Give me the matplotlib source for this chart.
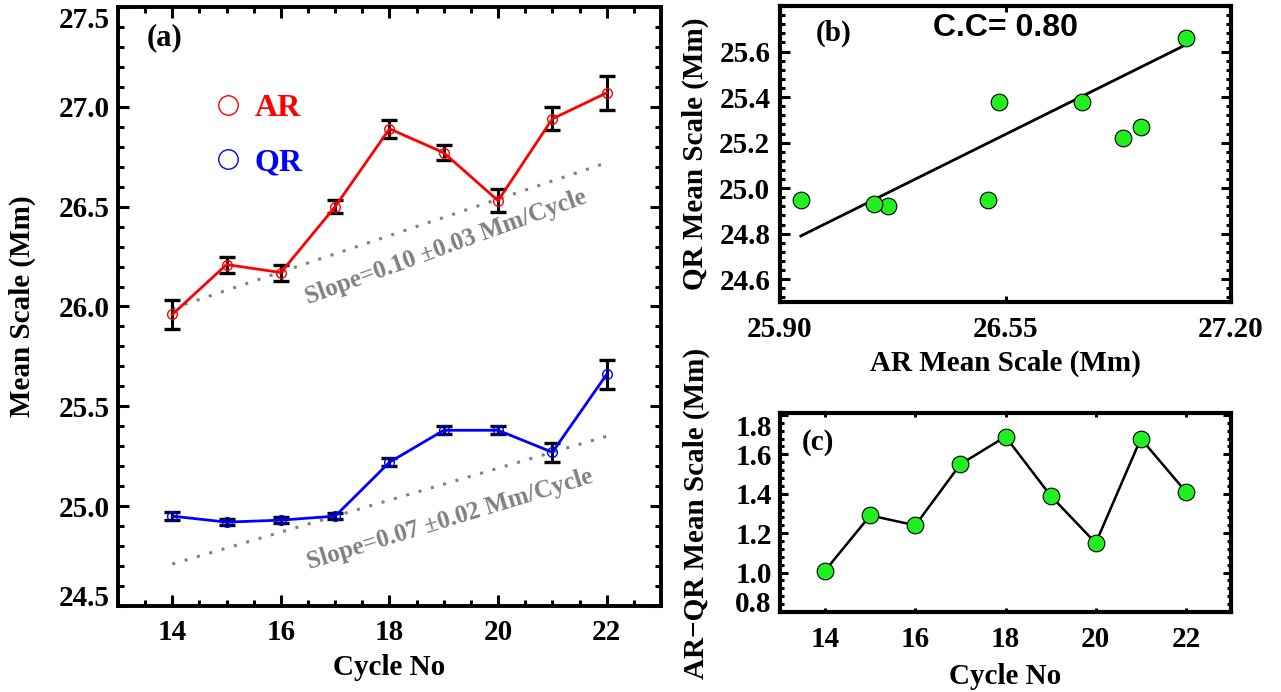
import matplotlib
matplotlib.use("Agg")
import matplotlib.pyplot as plt
from matplotlib.lines import Line2D
from matplotlib.ticker import MultipleLocator, FormatStrFormatter

# values
cycles = [14, 15, 16, 17, 18, 19, 20, 21, 22]
ar_scale = [25.96, 26.21, 26.17, 26.50, 26.89, 26.77, 26.53, 26.94, 27.07]
ar_err = [0.072, 0.04, 0.04, 0.034, 0.046, 0.038, 0.059, 0.057, 0.084]
qr_scale = [24.95, 24.92, 24.93, 24.95, 25.22, 25.38, 25.38, 25.27, 25.66]
qr_err = [0.02, 0.015, 0.015, 0.015, 0.02, 0.02, 0.02, 0.047, 0.072]
diff_scale = [1.01, 1.29, 1.24, 1.55, 1.69, 1.39, 1.15, 1.68, 1.41]

# trend lines (end points) as drawn in the figure
trend_x = [14, 22]
ar_trend = [25.99, 26.72]
qr_trend = [24.71, 25.35]
fit_ar = [25.96, 27.07]
fit_qr = [24.79, 25.63]

ar_slope_txt = "Slope=0.10 \u00b10.03 Mm/Cycle"
qr_slope_txt = "Slope=0.07 \u00b10.02 Mm/Cycle"
cc_txt = "C.C= 0.80"

green = "#22ee22"

plt.rcParams['font.family'] = ['Liberation Serif', 'DejaVu Serif']
plt.rcParams['font.weight'] = 'bold'
plt.rcParams['axes.labelweight'] = 'bold'

fig = plt.figure(figsize=(12.81, 6.92), dpi=100)
ax_a = fig.add_axes([0.0921, 0.1243, 0.4239, 0.8656])
ax_b = fig.add_axes([0.6089, 0.5636, 0.3521, 0.4277])
ax_c = fig.add_axes([0.6089, 0.1156, 0.3521, 0.2876])


def center_labels(ax):
    # place axis titles by their centres
    ax.xaxis.label.set_va('center')
    ax.yaxis.label.set_va('center')


# ---- panel (a)
ax_a.errorbar(cycles, ar_scale, yerr=ar_err, fmt='none', ecolor='black',
              elinewidth=2.2, capsize=5.5, capthick=2.4, zorder=2)
ax_a.errorbar(cycles, qr_scale, yerr=qr_err, fmt='none', ecolor='black',
              elinewidth=2.2, capsize=5.5, capthick=2.4, zorder=2)
ax_a.plot(cycles, ar_scale, color='red', lw=2, marker='o', ms=7,
          mfc='none', mec='red', mew=1, zorder=3)
ax_a.plot(cycles, qr_scale, color='blue', lw=2, marker='o', ms=7,
          mfc='none', mec='blue', mew=1, zorder=3)
ax_a.plot(trend_x, ar_trend, color='gray', lw=2.2, ls=(0, (1, 3.2)), zorder=1)
ax_a.plot(trend_x, qr_trend, color='gray', lw=2.2, ls=(0, (1, 3.2)), zorder=1)
ax_a.text(19.04, 26.295, ar_slope_txt, rotation=20, rotation_mode='anchor',
          ha='center', va='center', color='gray', fontsize=18, weight='bold')
ax_a.text(19.11, 24.935, qr_slope_txt, rotation=17, rotation_mode='anchor',
          ha='center', va='center', color='gray', fontsize=18, weight='bold')
ax_a.text(0.085, 0.948, "(a)", transform=ax_a.transAxes, fontsize=22,
          ha='center', va='center', weight='bold')

handles = [Line2D([], [], ls='none', marker='o', ms=14, mfc='none', mec='red', mew=1, label='AR'),
           Line2D([], [], ls='none', marker='o', ms=14, mfc='none', mec='blue', mew=1, label='QR')]
ax_a.legend(handles=handles, loc='center left', bbox_to_anchor=(0.173, 0.785),
            frameon=False, prop={'size': 23, 'weight': 'bold'}, labelcolor=['red', 'blue'],
            handlelength=1.0, handletextpad=0.34, labelspacing=0.77,
            borderpad=0, borderaxespad=0)

ax_a.set_xlim(13, 23)
ax_a.set_ylim(24.5, 27.5)
ax_a.set_xticks([14, 16, 18, 20, 22])
ax_a.xaxis.set_minor_locator(MultipleLocator(0.5))
ax_a.set_yticks([24.5, 25.0, 25.5, 26.0, 26.5, 27.0, 27.5])
ax_a.yaxis.set_minor_locator(MultipleLocator(0.1))
ax_a.yaxis.set_major_formatter(FormatStrFormatter('%.1f'))
ax_a.tick_params(which='both', direction='in', top=True, right=True, width=2.2, labelsize=21)
ax_a.tick_params(which='major', length=8)
ax_a.tick_params(which='minor', length=4)
ax_a.tick_params(axis='x', pad=9.5)
ax_a.tick_params(axis='y', pad=6)
for s in ax_a.spines.values():
    s.set_linewidth(2.8)
ax_a.set_xlabel("Cycle No", fontsize=21)
ax_a.set_ylabel("Mean Scale (Mm)", fontsize=21)
center_labels(ax_a)
ax_a.xaxis.set_label_coords(0.5, -0.1035)
ax_a.yaxis.set_label_coords(-0.177, 0.5)
ylabs = ax_a.get_yticklabels()
ylabs[0].set_va('baseline')
ylabs[-1].set_va('top')

# ---- panel (b)
ax_b.plot(fit_ar, fit_qr, color='black', lw=2, zorder=2)
ax_b.plot(ar_scale, qr_scale, ls='none', marker='o', ms=12, mfc=green,
          mec='black', mew=0.8, zorder=3)
ax_b.text(0.118, 0.909, "(b)", transform=ax_b.transAxes, fontsize=21,
          ha='center', va='center', weight='bold')
ax_b.text(0.5, 0.926, cc_txt, transform=ax_b.transAxes, fontsize=23,
          ha='center', va='center', weight='bold', family=['Liberation Sans', 'DejaVu Sans'])
ax_b.set_xlim(25.90, 27.20)
ax_b.set_ylim(24.5, 25.8)
ax_b.set_xticks([25.90, 26.55, 27.20])
ax_b.xaxis.set_major_formatter(FormatStrFormatter('%.2f'))
ax_b.set_yticks([24.6, 24.8, 25.0, 25.2, 25.4, 25.6])
ax_b.yaxis.set_minor_locator(MultipleLocator(0.04))
ax_b.yaxis.set_major_formatter(FormatStrFormatter('%.1f'))
ax_b.tick_params(which='both', direction='in', top=True, right=True, width=2.2, labelsize=21)
ax_b.tick_params(axis='y', which='major', length=7, pad=7)
ax_b.tick_params(axis='y', which='minor', length=3.5)
ax_b.tick_params(axis='x', which='major', length=4, pad=10)
for s in ax_b.spines.values():
    s.set_linewidth(3)
ax_b.set_xlabel("AR Mean Scale (Mm)", fontsize=21)
ax_b.set_ylabel("QR Mean Scale (Mm)", fontsize=21)
center_labels(ax_b)
ax_b.xaxis.set_label_coords(0.5, -0.206)
ax_b.yaxis.set_label_coords(-0.188, 0.5)

# ---- panel (c)
ax_c.plot(cycles, diff_scale, color='black', lw=1.8, marker='o', ms=12,
          mfc=green, mec='black', mew=0.8)
ax_c.text(0.084, 0.854, "(c)", transform=ax_c.transAxes, fontsize=21,
          ha='center', va='center', weight='bold')
ax_c.set_xlim(13, 23)
ax_c.set_ylim(0.8, 1.81)
ax_c.set_xticks([14, 16, 18, 20, 22])
ax_c.set_yticks([0.8, 1.0, 1.2, 1.4, 1.6, 1.8])
ax_c.yaxis.set_minor_locator(MultipleLocator(0.04))
ax_c.yaxis.set_major_formatter(FormatStrFormatter('%.1f'))
ax_c.tick_params(which='both', direction='in', top=True, right=True, width=2.2, labelsize=21)
ax_c.tick_params(axis='y', which='major', length=6, pad=6)
ax_c.tick_params(axis='y', which='minor', length=3)
ax_c.tick_params(axis='x', which='major', length=3, pad=10)
for s in ax_c.spines.values():
    s.set_linewidth(3)
ax_c.set_xlabel("Cycle No", fontsize=21)
ax_c.set_ylabel("AR\u2212QR Mean Scale (Mm)", fontsize=21)
center_labels(ax_c)
ax_c.xaxis.set_label_coords(0.5, -0.323)
ax_c.yaxis.set_label_coords(-0.186, 0.495)
clabs = ax_c.get_yticklabels()
clabs[0].set_va('baseline')
clabs[-1].set_va('top')

fig.savefig("out.png", dpi=100)
